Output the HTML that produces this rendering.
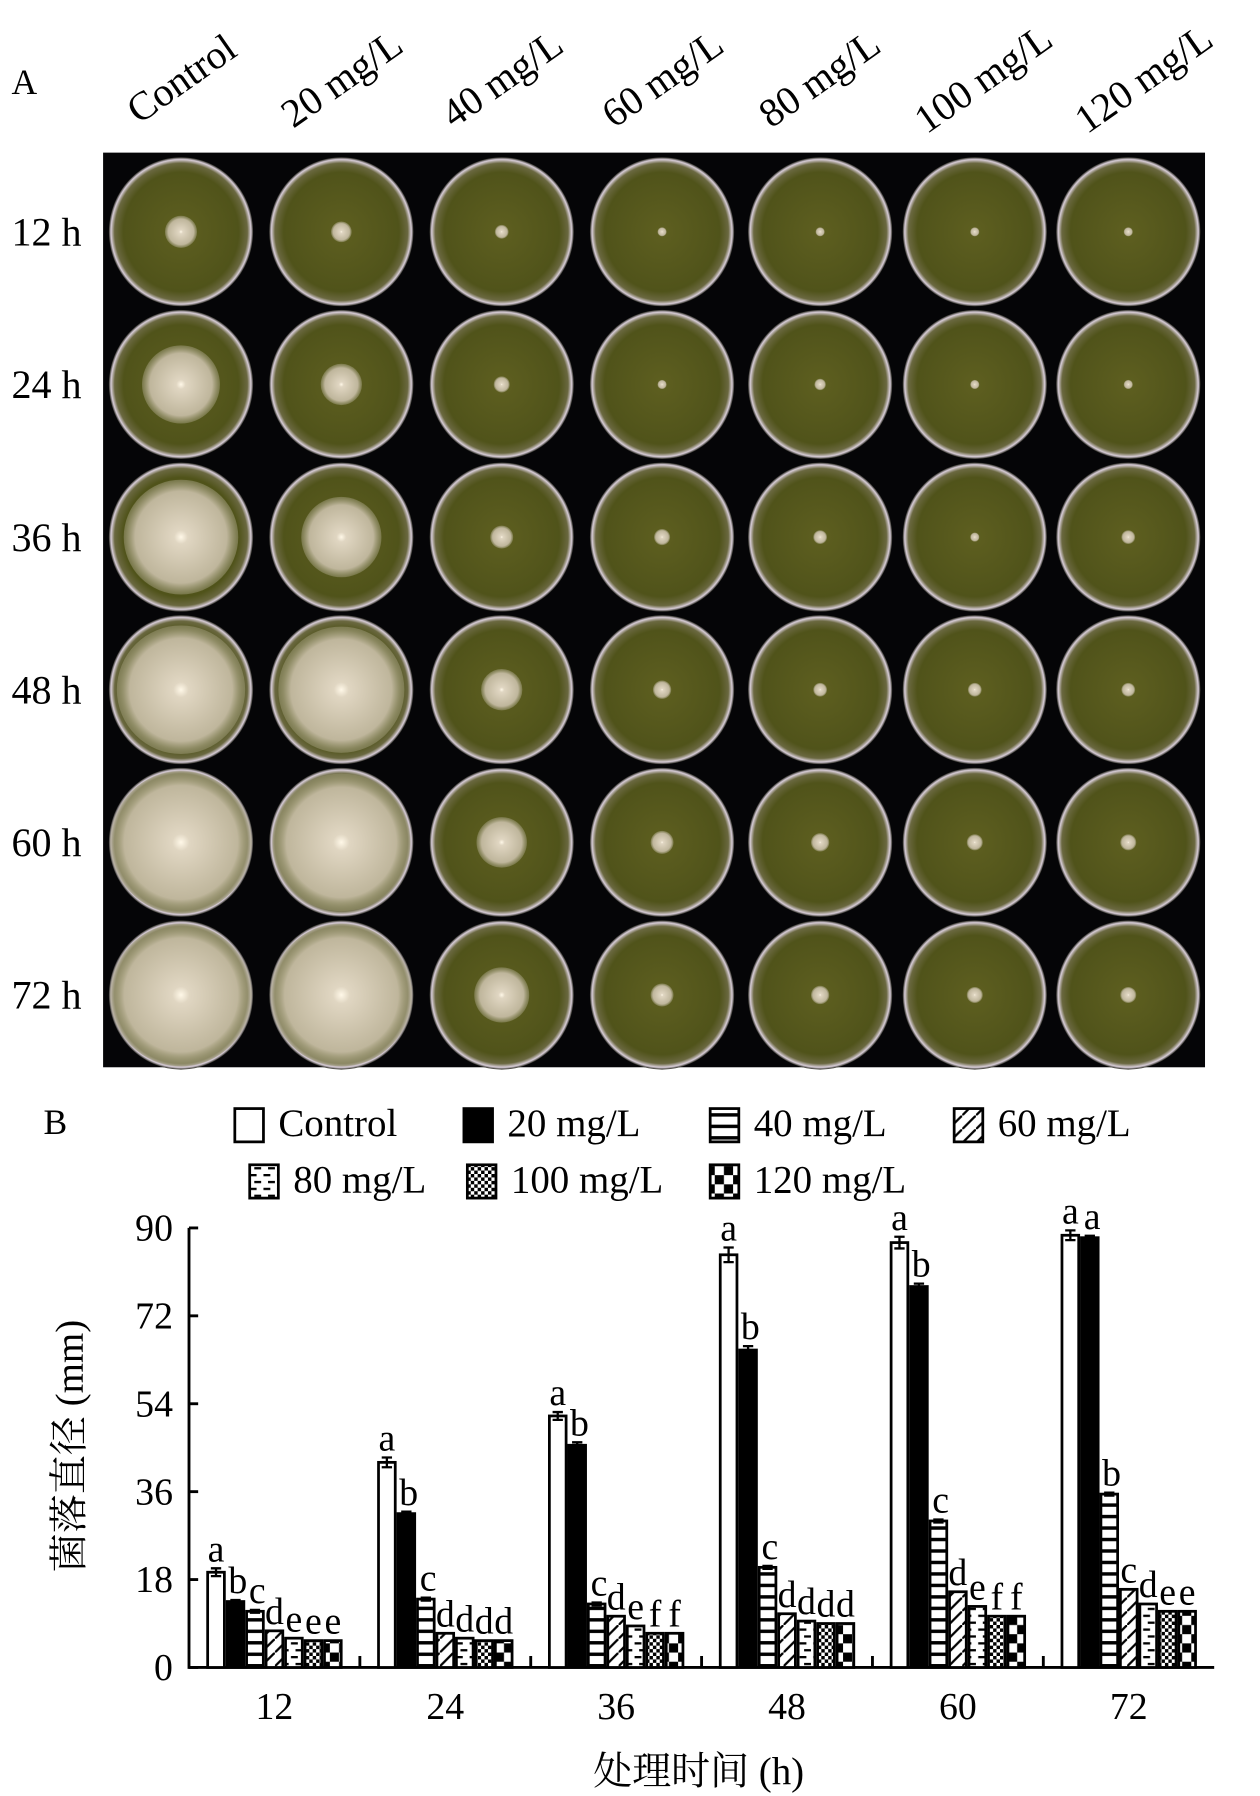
<!DOCTYPE html>
<html><head><meta charset="utf-8"><style>
html,body{margin:0;padding:0;background:#fff;}
svg{display:block;}
text{font-family:"Liberation Serif","Noto Serif CJK SC",serif;fill:#000;}
</style></head><body>
<svg id="fig" width="1260" height="1796" viewBox="0 0 1100 1565" preserveAspectRatio="none" xmlns="http://www.w3.org/2000/svg">
<defs>
<radialGradient id="agar" cx="50%" cy="50%" r="50%">
<stop offset="0%" stop-color="#5e5f20"/><stop offset="80%" stop-color="#50531a"/><stop offset="92%" stop-color="#6a6840"/><stop offset="97%" stop-color="#d8cdd8"/><stop offset="100%" stop-color="#2a2a22"/>
</radialGradient>
<radialGradient id="colony" cx="50%" cy="50%" r="50%">
<stop offset="0%" stop-color="#fff8e8"/><stop offset="12%" stop-color="#e0d6c2"/><stop offset="80%" stop-color="#bfb69c"/><stop offset="100%" stop-color="#9e9a78" stop-opacity="0.5"/>
</radialGradient>
<pattern id="p40" width="10" height="10" patternUnits="userSpaceOnUse"><rect width="10" height="10" fill="#fff"/><rect y="0" width="10" height="3" fill="#000"/></pattern>
<pattern id="p60" width="12" height="12" patternUnits="userSpaceOnUse"><rect width="12" height="12" fill="#fff"/><path d="M0 12L12 0" stroke="#000" stroke-width="2"/></pattern>
<pattern id="p80" width="12" height="12" patternUnits="userSpaceOnUse"><rect width="12" height="12" fill="#fff"/><rect x="2" y="3" width="6" height="2" fill="#000"/><rect x="6" y="9" width="6" height="2" fill="#000"/></pattern>
<pattern id="p100" width="6" height="6" patternUnits="userSpaceOnUse"><rect width="6" height="6" fill="#fff"/><rect width="3" height="3" fill="#000"/><rect x="3" y="3" width="3" height="3" fill="#000"/></pattern>
<pattern id="p120" width="16" height="16" patternUnits="userSpaceOnUse"><rect width="16" height="16" fill="#fff"/><rect width="8" height="8" fill="#000"/><rect x="8" y="8" width="8" height="8" fill="#000"/></pattern>
</defs>
<text x="10" y="82" font-size="31">A</text>
<g id="collabels"></g>
<rect x="90" y="133" width="962" height="797" fill="#050507"/>
<g id="plates"></g>
<g id="rowlabels"></g>
<text x="38" y="988" font-size="31">B</text>
<g id="legend"></g>
<g id="chart"></g>
<text transform="translate(72,1260) rotate(-90)" text-anchor="middle" font-size="34">菌落直径 (mm)</text>
<text x="610" y="1555" text-anchor="middle" font-size="34">处理时间 (h)</text>
</svg>
<script>
const NS='http://www.w3.org/2000/svg';
const categories=['12','24','36','48','60','72'];
const seriesNames=['Control','20 mg/L','40 mg/L','60 mg/L','80 mg/L','100 mg/L','120 mg/L'];
const sControl=[19.5,42,51.5,84.5,87,88.5];
const s20=[13.5,31.5,45.5,65,78,88];
const s40=[11.5,14,13,20.5,30,35.5];
const s60=[7.5,7,10.5,11,15.5,16];
const s80=[6,6,8.5,9.5,12.5,13];
const s100=[5.5,5.5,7,9,10.5,11.5];
const s120=[5.5,5.5,7,9,10.5,11.5];
const errControl=[0.8,1,0.8,1.5,1.2,1];
const err20=[0.3,0.4,0.6,0.8,0.6,0.4];
const letters=[['a','b','c','d','e','e','e'],['a','b','c','d','d','d','d'],['a','b','c','d','e','f','f'],['a','b','c','d','d','d','d'],['a','b','c','d','e','f','f'],['a','a','b','c','d','e','e']];
const yTicks=[0,18,36,54,72,90];
const series=[sControl,s20,s40,s60,s80,s100,s120];
const fills=['#fff','#000','url(#p40)','url(#p60)','url(#p80)','url(#p100)','url(#p120)'];
function mk(tag,attrs,parent){const e=document.createElementNS(NS,tag);for(const k in attrs)e.setAttribute(k,attrs[k]);parent.appendChild(e);return e;}
const X0=165,X1=1060,Y0=1453,Y90=1070;
const y=v=>Y0-(v/90)*(Y0-Y90);
const gw=(X1-X0)/6;
const gx=i=>X0+gw*i+gw/2;
const bw=17;
const chart=document.getElementById('chart');
const ax=mk('path',{d:`M${X0} ${Y90} V${Y0} H${X1}`,stroke:'#000','stroke-width':2.5,fill:'none'},chart);


yTicks.forEach(t=>{
 const l=mk('line',{x1:X0,x2:X0+8,y1:y(t),y2:y(t),stroke:'#000','stroke-width':2.5},chart);
 
 
 const tx=mk('text',{x:X0-14,y:y(t)+11,'text-anchor':'end','font-size':33},chart);
 tx.textContent=t;
 
 
});
for(let i=1;i<6;i++){
 const l=mk('line',{x1:X0+gw*i,x2:X0+gw*i,y1:Y0,y2:Y0-10,stroke:'#000','stroke-width':2.5},chart);
 
 
}
categories.forEach((c,i)=>{
 const tx=mk('text',{x:gx(i),y:Y0+45,'text-anchor':'middle','font-size':33},chart);
 tx.textContent=c;
 
 
 series.forEach((s,j)=>{
  const v=s[i];
  const bx=gx(i)-3.5*bw+j*bw;
  const r=mk('rect',{x:bx+1.2,y:y(v),width:bw-2.4,height:Y0-y(v),fill:fills[j],stroke:'#000','stroke-width':2.4},chart);
  
  
  let top=y(v);
  const e=j===0?errControl[i]:(j===1?err20[i]:0.3);
  if(j<3){
   const ey1=y(v+e),ey2=y(v-e);
   const eb=mk('path',{d:`M${bx+4} ${ey1}H${bx+bw-4}M${bx+bw/2} ${ey1}V${ey2}M${bx+4} ${ey2}H${bx+bw-4}`,stroke:'#000','stroke-width':2,fill:'none'},chart);
   
   
   top=ey1;
  }
  const lt=mk('text',{x:bx+bw/2+(j>0&&j<3?2:0),y:top-6,'text-anchor':'middle','font-size':33},chart);
  lt.textContent=letters[i][j];
  
  
 });
});
const leg=document.getElementById('legend');
const legPos=[[205,978],[405,978],[620,978],[833,978],[218,1027],[408,1027],[620,1027]];
seriesNames.forEach((n,j)=>{
 const [lx,ly]=legPos[j];
 const r=mk('rect',{x:lx,y:ly-12,width:25,height:29,fill:fills[j],stroke:'#000','stroke-width':2.4},leg);
 
 
 const t=mk('text',{x:lx+38,y:ly+12,'font-size':34},leg);
 t.textContent=n;
 
 
});
const colX=[158,298,438,578,716,851,985];
const rowY=[202,335,468,601,734,867];
const rowNames=['12 h','24 h','36 h','48 h','60 h','72 h'];
const colNames=['Control','20 mg/L','40 mg/L','60 mg/L','80 mg/L','100 mg/L','120 mg/L'];
const colonyR=[[14,34,50,56,62,62],[9,18,35,55,60,62],[6,7,10,18,22,24],[4,4,7,8,10,10],[4,5,6,6,8,8],[4,4,4,6,7,7],[4,4,6,6,7,7]];
const plates=document.getElementById('plates');
colX.forEach((cx,ci)=>{
 rowY.forEach((cy,ri)=>{
  const p=mk('ellipse',{cx:cx,cy:cy,rx:63,ry:65,fill:'url(#agar)'},plates);
  
  
  const c=mk('circle',{cx:cx,cy:cy,r:colonyR[ci][ri],fill:'url(#colony)'},plates);
  
  
 });
});
const rl=document.getElementById('rowlabels');
rowNames.forEach((n,i)=>{
 const t=mk('text',{x:10,y:rowY[i]+12,'font-size':35},rl);
 t.textContent=n;
 
 
});
const cl=document.getElementById('collabels');
colNames.forEach((n,i)=>{
 const cx=[165,305,445,585,722,865,1005][i];
 const t=mk('text',{x:0,y:0,'font-size':35,'text-anchor':'middle',transform:`translate(${cx},${78}) rotate(-35)`},cl);
 t.textContent=n;
 
 
});
</script>
</body></html>
